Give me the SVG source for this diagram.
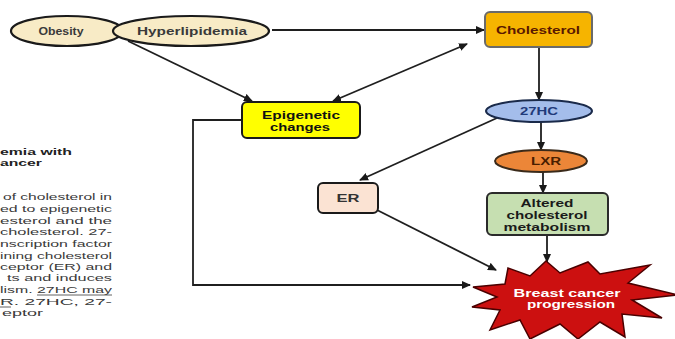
<svg xmlns="http://www.w3.org/2000/svg" width="675" height="339" viewBox="0 0 675 339">
<defs>
<marker id="ah" markerUnits="userSpaceOnUse" markerWidth="9" markerHeight="8" refX="8" refY="4" orient="auto-start-reverse" viewBox="0 0 9 8">
<path d="M0,0 L9,4 L0,8 z" fill="#1a1a1a"/>
</marker>
</defs>
<style>
.lbl{font-family:"Liberation Sans",Arial,sans-serif;font-weight:bold;font-size:10.5px;text-anchor:middle}
.body{font-family:"Liberation Sans",Arial,sans-serif;font-size:9px;fill:#3a3a3a}
.head{font-family:"Liberation Sans",Arial,sans-serif;font-size:9px;font-weight:bold;fill:#222}
.con{fill:none;stroke:#1f1f1f;stroke-width:1.8}
.ul{stroke:#3a3a3a;stroke-width:0.8}
</style>
<rect width="675" height="339" fill="#ffffff"/>

<g id="side-text">
<text class="head" x="0" y="155" textLength="72" lengthAdjust="spacingAndGlyphs">emia with</text>
<text class="head" x="0" y="166" textLength="42" lengthAdjust="spacingAndGlyphs">ancer</text>
<text class="body" x="3" y="200" textLength="109" lengthAdjust="spacingAndGlyphs">of cholesterol in</text>
<text class="body" x="0" y="212" textLength="112" lengthAdjust="spacingAndGlyphs">ed to epigenetic</text>
<text class="body" x="0" y="224" textLength="112" lengthAdjust="spacingAndGlyphs">esterol and the</text>
<text class="body" x="0" y="235" textLength="112" lengthAdjust="spacingAndGlyphs">cholesterol.  27-</text>
<text class="body" x="0" y="247" textLength="112" lengthAdjust="spacingAndGlyphs">nscription factor</text>
<text class="body" x="0" y="259" textLength="112" lengthAdjust="spacingAndGlyphs">ining cholesterol</text>
<text class="body" x="0" y="270" textLength="112" lengthAdjust="spacingAndGlyphs">ceptor (ER) and</text>
<text class="body" x="7" y="281" textLength="105" lengthAdjust="spacingAndGlyphs">ts and induces</text>
<text class="body" x="0" y="293" textLength="112" lengthAdjust="spacingAndGlyphs">lism. 27HC may</text>
<text class="body" x="0" y="305" textLength="112" lengthAdjust="spacingAndGlyphs">R.  27HC,  27-</text>
<text class="body" x="2" y="316" textLength="41" lengthAdjust="spacingAndGlyphs">eptor</text>
<line class="ul" x1="37" y1="295" x2="112" y2="295"/>
<line class="ul" x1="0" y1="307" x2="11" y2="307"/>
</g>

<g id="connectors">
<line class="con" x1="272" y1="30" x2="484" y2="30" marker-end="url(#ah)"/>
<line class="con" x1="128" y1="41" x2="252" y2="101" marker-end="url(#ah)"/>
<line class="con" x1="467" y1="44" x2="333" y2="101" marker-start="url(#ah)" marker-end="url(#ah)"/>
<line class="con" x1="539" y1="47" x2="539" y2="100" marker-end="url(#ah)"/>
<line class="con" x1="541" y1="122" x2="541" y2="150" marker-end="url(#ah)"/>
<line class="con" x1="543" y1="172" x2="543" y2="193" marker-end="url(#ah)"/>
<line class="con" x1="497" y1="118" x2="360" y2="180" marker-end="url(#ah)"/>
<line class="con" x1="377" y1="210" x2="496" y2="270" marker-end="url(#ah)"/>
<line class="con" x1="547" y1="235" x2="547" y2="262" marker-end="url(#ah)"/>
<polyline class="con" points="242,120 193,120 193,285 470,285" stroke="#444" marker-end="url(#ah)"/>
</g>

<g id="obesity">
<ellipse cx="67" cy="31" rx="56" ry="15" fill="#F8EBC6" stroke="#1a1a1a" stroke-width="2.2"/>
<text class="lbl" x="61" y="35" fill="#3a3a3a" textLength="45" lengthAdjust="spacingAndGlyphs">Obesity</text>
</g>

<g id="hyperlipidemia">
<ellipse cx="191" cy="31" rx="78" ry="15" fill="#F8EBC6" stroke="#1a1a1a" stroke-width="2.2"/>
<text class="lbl" x="192" y="35" fill="#3a3a3a" textLength="110" lengthAdjust="spacingAndGlyphs">Hyperlipidemia</text>
</g>

<g id="cholesterol">
<rect x="485" y="12" width="107" height="35" rx="5" fill="#F6B400" stroke="#6a6a6a" stroke-width="2"/>
<text class="lbl" x="538" y="34" fill="#5a1800" textLength="84" lengthAdjust="spacingAndGlyphs">Cholesterol</text>
</g>

<g id="epigenetic">
<rect x="242" y="102" width="118" height="36" rx="5" fill="#FFFF00" stroke="#1a1a1a" stroke-width="2"/>
<text class="lbl" x="301" y="119" fill="#111" textLength="78" lengthAdjust="spacingAndGlyphs">Epigenetic</text>
<text class="lbl" x="300" y="131" fill="#111" textLength="60" lengthAdjust="spacingAndGlyphs">changes</text>
</g>

<g id="hc27">
<ellipse cx="539" cy="111" rx="53" ry="11" fill="#A4BDEB" stroke="#1a2a4a" stroke-width="2"/>
<text class="lbl" x="539" y="115" fill="#1F3A7A" textLength="38" lengthAdjust="spacingAndGlyphs">27HC</text>
</g>

<g id="lxr">
<ellipse cx="541" cy="161" rx="46" ry="11" fill="#EC8638" stroke="#3a2a1a" stroke-width="2"/>
<text class="lbl" x="546" y="165" fill="#4a1e00" textLength="30" lengthAdjust="spacingAndGlyphs">LXR</text>
</g>

<g id="er">
<rect x="318" y="183" width="60" height="30" rx="5" fill="#FBE3D3" stroke="#1a1a1a" stroke-width="2"/>
<text class="lbl" x="348" y="202" fill="#333" font-size="9" textLength="23" lengthAdjust="spacingAndGlyphs">ER</text>
</g>

<g id="altered">
<rect x="487" y="193" width="121" height="42" rx="5" fill="#C6DFB1" stroke="#2a2a2a" stroke-width="2"/>
<text class="lbl" x="547" y="207" fill="#1a1a1a" textLength="53" lengthAdjust="spacingAndGlyphs">Altered</text>
<text class="lbl" x="547" y="219" fill="#1a1a1a" textLength="81" lengthAdjust="spacingAndGlyphs">cholesterol</text>
<text class="lbl" x="547" y="231" fill="#1a1a1a" textLength="87" lengthAdjust="spacingAndGlyphs">metabolism</text>
</g>

<g id="breast-cancer">
<polygon points="473,287 505,284 508,268 530,276 546,261 560,273 588,262 600,274 650,265 628,283 678,295 632,300 662,318 622,314 625,337 600,322 578,339 560,324 530,339 520,320 490,330 500,310 472,307 497,297" fill="#CC1010" stroke="#4a0000" stroke-width="1.5"/>
<text class="lbl" x="567" y="297" fill="#ffffff" textLength="107" lengthAdjust="spacingAndGlyphs">Breast cancer</text>
<text class="lbl" x="571" y="308" fill="#ffffff" textLength="88" lengthAdjust="spacingAndGlyphs">progression</text>
</g>
</svg>
